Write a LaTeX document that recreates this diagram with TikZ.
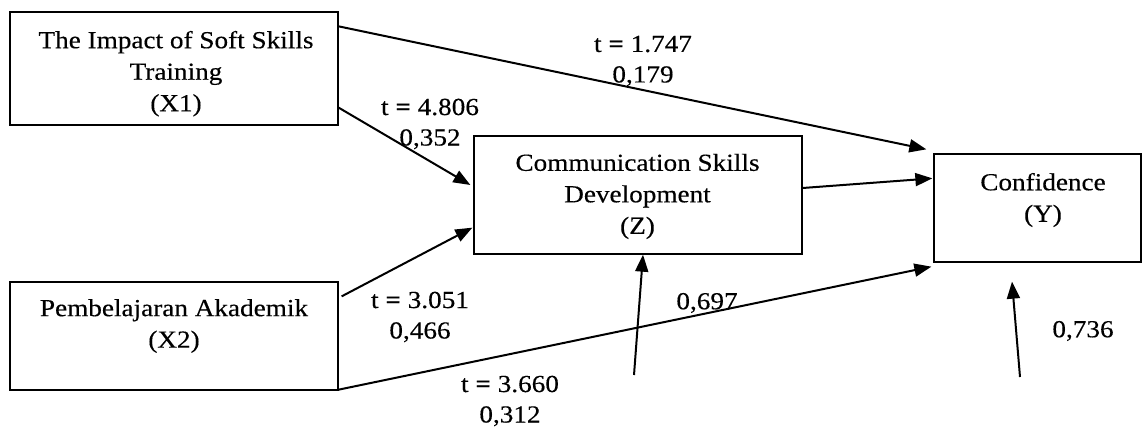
\documentclass[tikz,border=0pt]{standalone}
\usepackage{fontspec}
\setmainfont{Liberation Serif}[FakeStretch=1.11,FakeBold=0.35]
\usetikzlibrary{arrows.meta}
\tikzset{
  box/.style={draw, line width=1.3pt, rectangle, inner sep=0pt},
  boxtext/.style={align=center, inner sep=0pt, font=\fontsize{24.5}{31.5}\selectfont},
  coef/.style={align=center, inner sep=0pt, font=\fontsize{24.5}{30.5}\selectfont},
  path/.style={line width=2pt, -{Triangle[length=17pt,width=13pt]}}
}
\begin{document}
\begin{tikzpicture}[x=1pt,y=-1pt]
\useasboundingbox (0,0) rectangle (1142,428);

% constructs
\node[box, minimum width=328pt, minimum height=113pt] (x1) at (174,68.5) {};
\node[box, minimum width=328pt, minimum height=108pt] (x2) at (174,336) {};
\node[box, minimum width=328pt, minimum height=118pt] (z) at (638,195) {};
\node[box, minimum width=207pt, minimum height=108pt] (y) at (1037.5,208) {};

\node[boxtext] (x1t) at (176,73.7) {The Impact of Soft Skills\\Training\\(X1)};
\node[boxtext] (x2t) at (174,326) {Pembelajaran Akademik\\(X2)};
\node[boxtext] (zt) at (637.5,196.4) {Communication Skills\\Development\\(Z)};
\node[boxtext] (yt) at (1043,200) {Confidence\\(Y)};

% free ends of the residual arrows
\coordinate (ez) at (634,375);
\coordinate (ey) at (1020,377);

% structural paths
\draw[path] ([yshift=-15pt]x1.north east) -- ([xshift=-7pt,yshift=4pt]y.north west);
\draw[path] ([yshift=18pt]x1.south east) -- ([xshift=-3pt,yshift=10pt]z.west);
\draw[path] ([yshift=7pt]z.east) -- ([xshift=-1pt,yshift=-25pt]y.north west);
\draw[path] ([xshift=3pt,yshift=-15pt]x2.north east) -- ([xshift=-1pt,yshift=27pt]z.south west);
\draw[path] ([yshift=1pt]x2.south east) -- ([xshift=-2pt,yshift=-4pt]y.south west);
\draw[path] (ez) -- ([xshift=5pt]z.south);
\draw[path] (ey) -- ([xshift=-25.5pt,yshift=-19pt]y.south);

% coefficients
\node[coef] (c1) at (643,61) {t \textbf{=} 1.747\\0,179};
\node[coef] (c2) at (430,124) {t \textbf{=} 4.806\\0,352};
\node[coef] (c3) at (420,317) {t \textbf{=} 3.051\\0,466};
\node[coef] (c4) at (510,401) {t \textbf{=} 3.660\\0,312};
\node[coef] (c5) at (707,303) {0,697};
\node[coef] (c6) at (1083,331) {0,736};
\end{tikzpicture}
\end{document}
